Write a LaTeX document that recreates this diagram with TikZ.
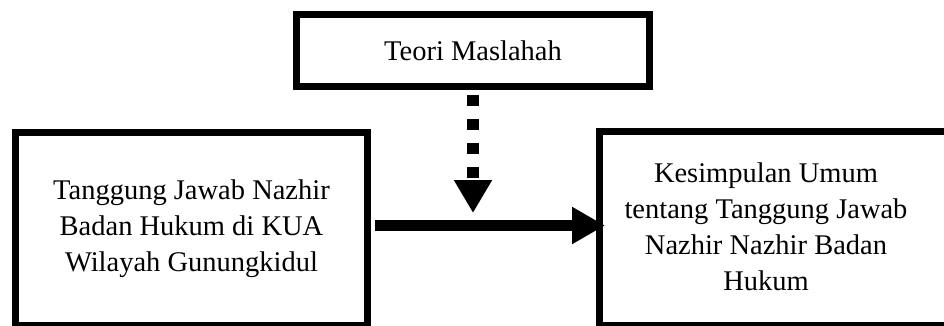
\documentclass[tikz,border=0pt]{standalone}
\usepackage{fontspec}
\setmainfont{Liberation Serif}
\usetikzlibrary{arrows.meta}

\tikzset{
  teks/.style={align=center, inner sep=0pt, font=\fontsize{28.5}{36}\selectfont},
  kotak/.style={teks, draw, line width=7pt},
  panah/.style={line width=11pt, -{Triangle[length=33pt,width=35pt]}},
  panahputus/.style={line width=12pt, dash pattern=on 11pt off 13pt, -{Triangle[length=33pt,width=36pt]}}
}

\begin{document}
\begin{tikzpicture}[x=1pt,y=1pt]
\useasboundingbox (0,0) rectangle (944,325);
\clip (0,0) rectangle (944,325);

\node[kotak, minimum width=353pt, minimum height=72pt] (teori) at (473,274.5) {Teori Maslahah};

\node[kotak, minimum width=352pt, minimum height=193pt] (nazhir) at (191.5,96)
  {Tanggung Jawab Nazhir\\Badan Hukum di KUA\\Wilayah Gunungkidul};

% kotak kanan lewat tepi gambar
\node[kotak, minimum width=370pt, minimum height=194.5pt] (kesimpulan) at (784.5,96.75) {};
\node[teks] (kesimpulanteks) at (766,98)
  {Kesimpulan Umum\\tentang Tanggung Jawab\\Nazhir Nazhir Badan\\Hukum};

\coordinate (temu) at (473,112);
\draw[panahputus] ([yshift=-5pt]teori.south) -- (temu);

\draw[panah] ([xshift=4pt,yshift=3.5pt]nazhir.east) -- ([xshift=9pt,yshift=3.5pt]nazhir.east -| kesimpulan.west);

\end{tikzpicture}
\end{document}
